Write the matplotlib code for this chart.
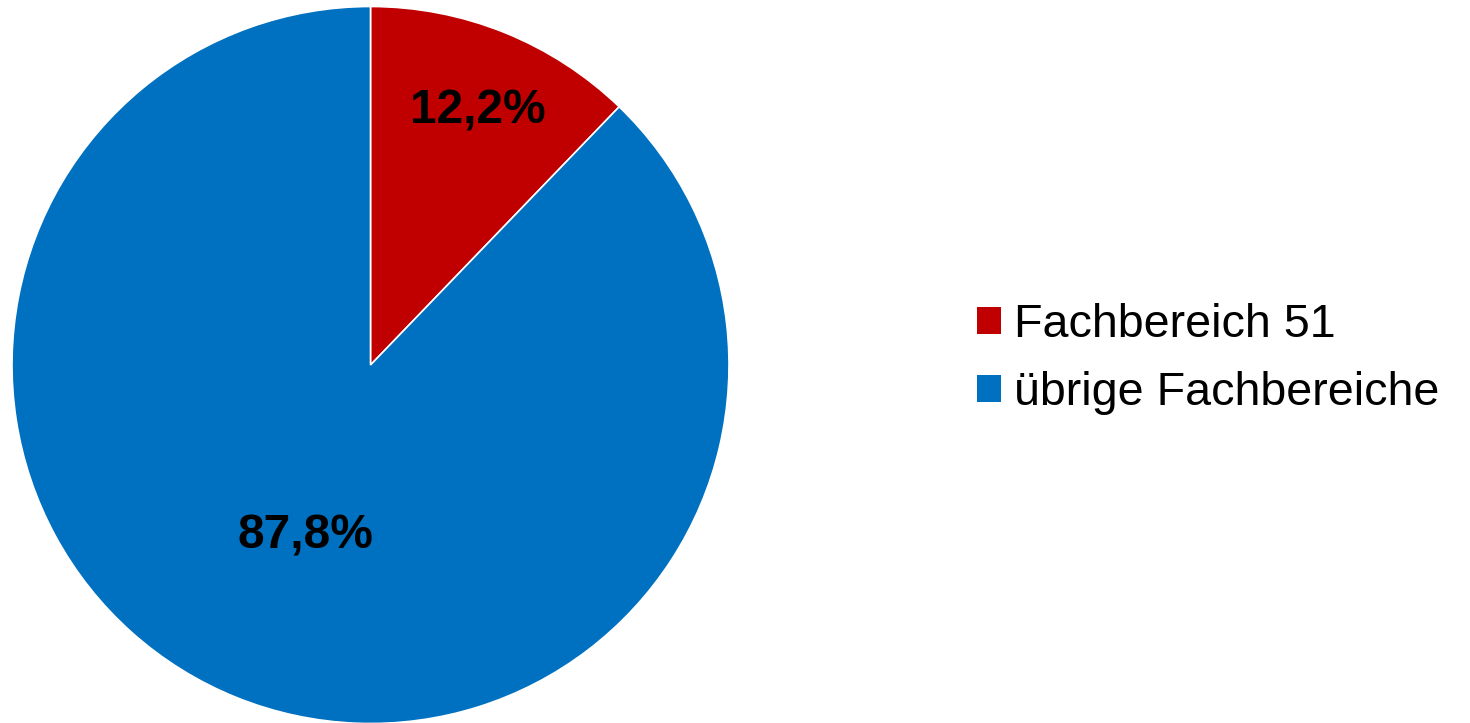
import numpy as np
import matplotlib
matplotlib.use("Agg")
import matplotlib.pyplot as plt

plt.rcParams['font.family'] = ['Liberation Sans', 'DejaVu Sans']

categories = ["Fachbereich 51", "übrige Fachbereiche"]
values = [12.2, 87.8]
colors = ["#C00000", "#0070C0"]
label_radii = [0.77, 0.51]

W, H = 1470, 723
fig = plt.figure(figsize=(W / 100, H / 100), dpi=100)
R = 358.5
cx, cy = 370.5, 723 - 365
ax = fig.add_axes([(cx - R) / W, (cy - R) / H, 2 * R / W, 2 * R / H])
ax.axis('off')

wedges, _ = ax.pie(values, colors=colors, startangle=90, counterclock=False,
                   radius=1, wedgeprops=dict(edgecolor='white', linewidth=1.2))
ax.set_xlim(-1, 1)
ax.set_ylim(-1, 1)
ax.set_aspect('equal')

for w, v, r in zip(wedges, values, label_radii):
    ang = np.deg2rad((w.theta1 + w.theta2) / 2)
    ax.text(r * np.cos(ang) + 0.01, r * np.sin(ang) - 0.005, f"{v:.1f}%".replace('.', ','),
            ha='center', va='center', fontsize=34.5, fontweight='bold', color='black')

fs = 33.6
leg = fig.legend(wedges, categories, loc='center left',
                 bbox_to_anchor=(977 / W, 1 - 359 / H), frameon=False,
                 fontsize=fs, handlelength=0.51, handleheight=0.51,
                 handletextpad=0.28, labelspacing=0.52, borderpad=0, borderaxespad=0)
for h in leg.legend_handles:
    h.set_edgecolor('none')

fig.savefig("out.png", dpi=100)
